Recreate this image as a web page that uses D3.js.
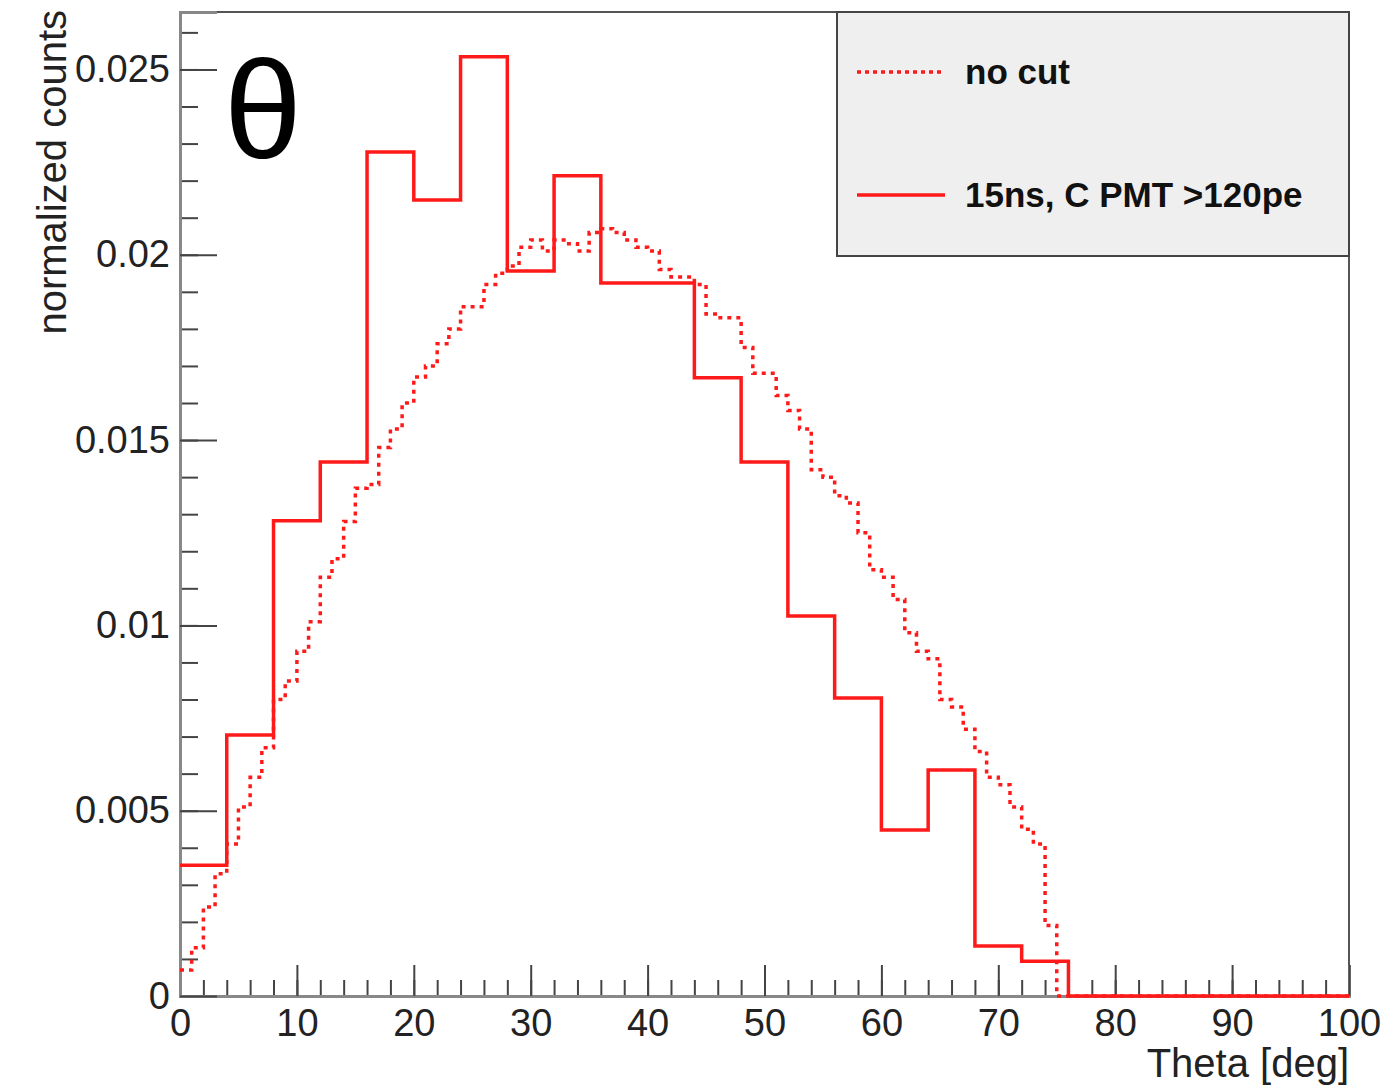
<!DOCTYPE html>
<html>
<head>
<meta charset="utf-8">
<script src="https://cdn.jsdelivr.net/npm/d3@7"></script>
<style>
  body { margin: 0; background: #fff; }
  svg { display: block; font-family: 'Liberation Sans', Arial, sans-serif; }
  .axis path { stroke: #888; stroke-width: 3; }
  .axis line { stroke: #444; stroke-width: 2; }
  .axis text { fill: #222; font-size: 38px; }
</style>
</head>
<body>
<div id="chart"></div>
<script>
// no cut: 1 deg bins from 0 to 75
const noCutValues = [
  0.0007, 0.0013, 0.0024, 0.0033, 0.0041, 0.0051, 0.0059, 0.0067, 0.0080, 0.0085,
  0.0093, 0.0101, 0.0113, 0.0118, 0.0128, 0.0137, 0.0138, 0.0148, 0.0153, 0.0160,
  0.0167, 0.0170, 0.0176, 0.0180, 0.0186, 0.0186, 0.0192, 0.0195, 0.0197, 0.0202,
  0.0204, 0.0201, 0.0204, 0.0203, 0.0201, 0.0206, 0.0207, 0.0206, 0.0204, 0.0202,
  0.0201, 0.0196, 0.0194, 0.0194, 0.0192, 0.0184, 0.0183, 0.0183, 0.0175, 0.0168,
  0.0168, 0.0162, 0.0158, 0.0153, 0.0142, 0.0140, 0.0135, 0.0133, 0.0125, 0.0115,
  0.0113, 0.0107, 0.0098, 0.0093, 0.0091, 0.0080, 0.0078, 0.0072, 0.0066, 0.0059,
  0.0057, 0.0051, 0.0045, 0.0041, 0.0019, 0
];

// 15ns, C PMT >120pe: 4 deg bins
const cutEdges = [0, 4, 8, 12, 16, 20, 24, 28, 32, 36, 40, 44, 48, 52, 56, 60, 64, 68, 72, 76, 100];
const cutValues = [
  0.00353, 0.00704, 0.01282, 0.01441, 0.02277, 0.02148, 0.02534, 0.01956, 0.02213, 0.01924,
  0.01924, 0.01668, 0.01441, 0.01025, 0.00804, 0.00448, 0.00610, 0.00135, 0.00094, 0
];

const xTicks = [0, 10, 20, 30, 40, 50, 60, 70, 80, 90, 100];
const yTicks = [0, 0.005, 0.01, 0.015, 0.02, 0.025];
const yTickLabels = ['0', '0.005', '0.01', '0.015', '0.02', '0.025'];
const legendLabels = ['no cut', '15ns, C PMT >120pe'];

const width = 1394, height = 1087;
const margin = { top: 12, right: 45, bottom: 91, left: 180 };
const plotW = width - margin.left - margin.right;
const plotH = height - margin.top - margin.bottom;

const svg = d3.select('#chart')
  .append('svg')
  .attr('width', width)
  .attr('height', height);

svg.append('rect').attr('width', width).attr('height', height).attr('fill', '#fff');

const g = svg.append('g')
  .attr('transform', `translate(${margin.left},${margin.top})`);

const x = d3.scaleLinear().domain([0, 100]).range([0, plotW]);
const y = d3.scaleLinear().domain([0, 0.02655]).range([plotH, 0]);

// frame
g.append('rect')
  .attr('width', plotW)
  .attr('height', plotH)
  .attr('fill', 'none')
  .attr('stroke', '#555')
  .attr('stroke-width', 2);

// =====================
// AXES
// =====================
g.append('g')
  .attr('class', 'axis')
  .attr('transform', `translate(0,${plotH})`)
  .call(d3.axisBottom(x).tickValues(d3.range(0, 101, 2)).tickSize(-16).tickFormat(''));

g.append('g')
  .attr('class', 'axis')
  .attr('transform', `translate(0,${plotH})`)
  .call(d3.axisBottom(x).tickValues(xTicks).tickSize(-31).tickPadding(48).tickFormat(d3.format('d')))
  .call(a => a.selectAll('text').attr('dy', '-0.2em'));

g.append('g')
  .attr('class', 'axis')
  .call(d3.axisLeft(y).tickValues(d3.range(0, 27).map(i => i * 0.001)).tickSize(-18).tickFormat(''));

g.append('g')
  .attr('class', 'axis')
  .call(d3.axisLeft(y).tickValues(yTicks).tickSize(-37).tickPadding(10)
    .tickFormat((d, i) => yTickLabels[i]));

g.selectAll('.axis .domain').attr('stroke', '#888');

// axis titles
svg.append('text')
  .attr('x', margin.left + plotW)
  .attr('y', 1077)
  .attr('text-anchor', 'end')
  .attr('fill', '#222')
  .style('font-size', '40px')
  .text('Theta [deg]');

svg.append('text')
  .attr('transform', 'translate(66,10) rotate(-90)')
  .attr('text-anchor', 'end')
  .attr('fill', '#222')
  .style('font-size', '40px')
  .text('normalized counts');

// =====================
// HISTOGRAMS
// =====================
const step = d3.line()
  .x(d => x(d[0]))
  .y(d => y(d[1]))
  .curve(d3.curveStepAfter);

const noCutPts = noCutValues.map((v, i) => [i, v]);
noCutPts.push([100, noCutValues[noCutValues.length - 1]]);

g.append('path')
  .datum(noCutPts)
  .attr('d', step)
  .attr('fill', 'none')
  .attr('stroke', '#ff1a1a')
  .attr('stroke-width', 3.5)
  .attr('stroke-dasharray', '4,5');

const cutPts = cutValues.map((v, i) => [cutEdges[i], v]);
cutPts.push([cutEdges[cutEdges.length - 1], cutValues[cutValues.length - 1]]);

g.append('path')
  .datum(cutPts)
  .attr('d', step)
  .attr('fill', 'none')
  .attr('stroke', '#ff1a1a')
  .attr('stroke-width', 3.5);

// =====================
// LEGEND + LABEL
// =====================
const leg = svg.append('g').attr('transform', 'translate(837,12)');

leg.append('rect')
  .attr('width', 512)
  .attr('height', 244)
  .attr('fill', '#efefef')
  .attr('stroke', '#444')
  .attr('stroke-width', 2);

legendLabels.forEach((label, i) => {
  const ly = i === 0 ? 60 : 183;
  leg.append('line')
    .attr('x1', 20).attr('x2', 108)
    .attr('y1', ly).attr('y2', ly)
    .attr('stroke', '#ff1a1a')
    .attr('stroke-width', 3.5)
    .attr('stroke-dasharray', i === 0 ? '4,4' : null);
  leg.append('text')
    .attr('x', 128)
    .attr('y', ly + 12)
    .attr('fill', '#111')
    .style('font-size', '35px')
    .style('font-weight', 'bold')
    .text(label);
});

svg.append('text')
  .attr('x', 224)
  .attr('y', 158)
  .attr('fill', '#000')
  .style('font-size', '140px')
  .text('θ');
</script>
</body>
</html>
